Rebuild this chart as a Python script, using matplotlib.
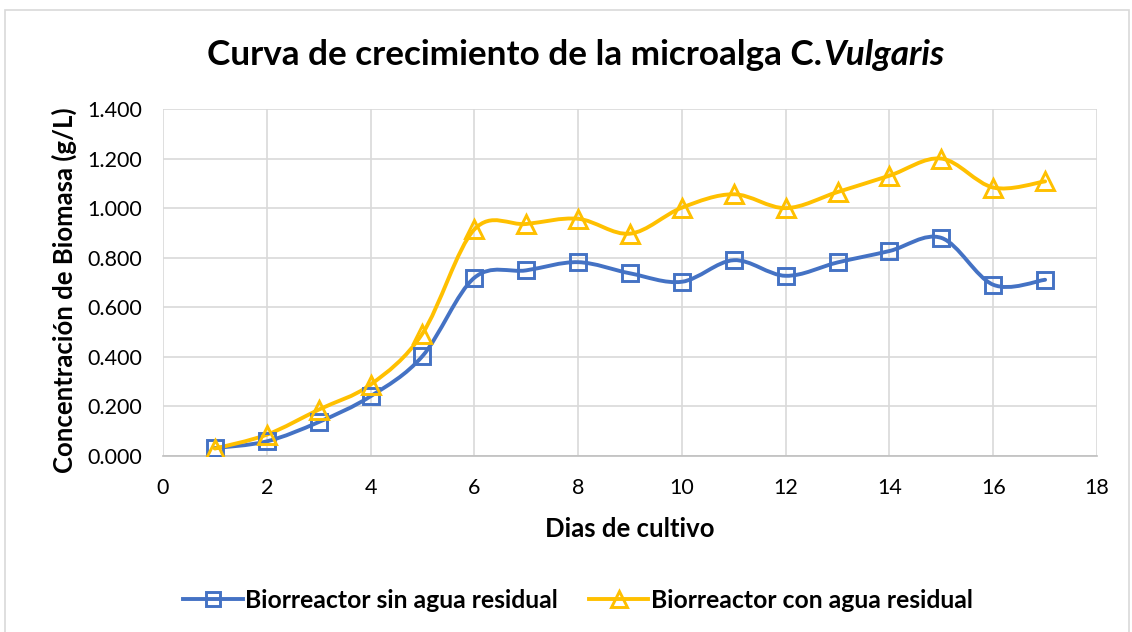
import numpy as np
import matplotlib
matplotlib.use("Agg")
import matplotlib.pyplot as plt
from matplotlib.path import Path
from matplotlib.patches import PathPatch, Rectangle
from matplotlib.lines import Line2D
from matplotlib.ticker import FuncFormatter, MultipleLocator

plt.rcParams['font.family'] = ['Lato', 'DejaVu Sans']

dias = [1, 2, 3, 4, 5, 6, 7, 8, 9, 10, 11, 12, 13, 14, 15, 16, 17]
sin_agua = [0.032, 0.059, 0.137, 0.241, 0.403, 0.719, 0.749, 0.782, 0.737,
            0.703, 0.790, 0.727, 0.781, 0.827, 0.880, 0.691, 0.711]
con_agua = [0.030, 0.086, 0.187, 0.288, 0.494, 0.914, 0.936, 0.957, 0.897,
            1.002, 1.056, 1.000, 1.065, 1.131, 1.200, 1.083, 1.108]

label_sin = "Biorreactor sin agua residual"
label_con = "Biorreactor con agua residual"
azul = "#4472C4"
amarillo = "#FFC000"


def smooth_path(x, y):
    # curva suavizada tipo Excel (Catmull-Rom como Bezier cubico)
    p = np.column_stack([x, y]).astype(float)
    ext = np.vstack([p[0], p, p[-1]])
    verts = [p[0]]
    codes = [Path.MOVETO]
    for i in range(len(p) - 1):
        p0, p1, p2, p3 = ext[i], ext[i + 1], ext[i + 2], ext[i + 3]
        c1 = p1 + (p2 - p0) / 6.0
        c2 = p2 - (p3 - p1) / 6.0
        verts += [c1, c2, p2]
        codes += [Path.CURVE4] * 3
    return Path(verts, codes)


fig = plt.figure(figsize=(11.32, 6.32), dpi=100)
ax = fig.add_axes([163 / 1132, 1 - 456 / 632, (1097 - 163) / 1132, (456 - 109) / 632])

for yv, col in [(sin_agua, azul), (con_agua, amarillo)]:
    ax.add_patch(PathPatch(smooth_path(dias, yv), facecolor='none', edgecolor=col,
                           lw=2.8, capstyle='round', joinstyle='round', zorder=3))

ax.plot(dias, sin_agua, ls='none', marker='s', ms=11.5, mfc='none', mec=azul, mew=2.1, zorder=4)
ax.plot(dias, con_agua, ls='none', marker='^', ms=12.5, mfc='none', mec=amarillo, mew=2.1, zorder=4)

ax.set_xlim(0, 18)
ax.set_ylim(0, 1.4)
ax.xaxis.set_major_locator(MultipleLocator(2))
ax.yaxis.set_major_locator(MultipleLocator(0.2))
ax.yaxis.set_major_formatter(FuncFormatter(lambda v, p: f"{v:.3f}"))
ax.grid(True, color='#D9D9D9', lw=1.2)
ax.set_axisbelow(True)
for s in ['top', 'right', 'left']:
    ax.spines[s].set_visible(False)
ax.spines['bottom'].set_color('#BFBFBF')
ax.spines['bottom'].set_linewidth(1.2)
ax.tick_params(length=0, labelsize=15.5)
ax.tick_params(axis='y', pad=15)
ax.tick_params(axis='x', pad=16)

fig.text(630 / 1132, 1 - 529 / 632, "Dias de cultivo", ha='center', va='center',
         fontsize=18.5, fontweight='bold')
fig.text(64 / 1132, 1 - 290 / 632, "Concentración de Biomasa (g/L)", ha='center', va='center',
         rotation=90, fontsize=18.5, fontweight='bold')

# titulo con parte en cursiva
fig.canvas.draw()
r = fig.canvas.get_renderer()
t1 = fig.text(0, 1 - 55 / 632, "Curva de crecimiento de la microalga C.", ha='left', va='center',
              fontsize=25.3, fontweight='bold')
t2 = fig.text(0, 1 - 55 / 632, "Vulgaris", ha='left', va='center',
              fontsize=25.3, fontweight='bold', style='italic')
w1 = t1.get_window_extent(r).width
w2 = t2.get_window_extent(r).width
x0 = 575.5 - (w1 + w2) / 2
t1.set_x(x0 / 1132)
t2.set_x((x0 + w1 + 1) / 1132)

handles = [Line2D([], [], color=azul, lw=2.8, marker='s', ms=10, mfc='none', mec=azul, mew=2.1),
           Line2D([], [], color=amarillo, lw=2.8, marker='^', ms=11, mfc='none', mec=amarillo, mew=2.1)]
leg = fig.legend(handles, [label_sin, label_con], loc='center', bbox_to_anchor=(578 / 1132, 1 - 600 / 632),
                 ncol=2, frameon=False, handlelength=2.4, handletextpad=0.1, columnspacing=1.25,
                 prop={'size': 17.8, 'weight': 'bold'})

fig.add_artist(Rectangle((5 / 1132, -0.02), 1124 / 1132, 1 - 10 / 632 + 0.02, transform=fig.transFigure,
                         fill=False, edgecolor='#D9D9D9', lw=1.2))

fig.savefig("out.png", dpi=100)
